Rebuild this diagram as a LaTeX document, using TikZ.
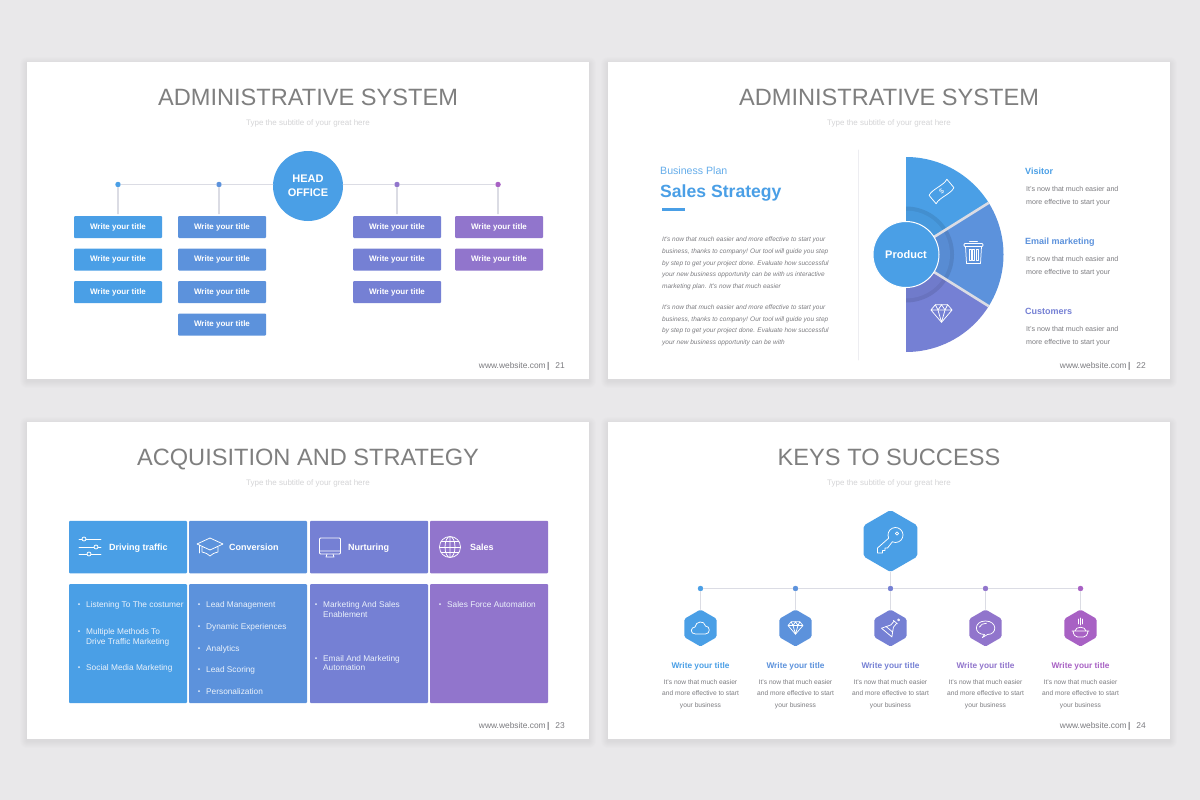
\documentclass[tikz,border=0pt]{standalone}
\usepackage{fontspec}
\setmainfont{Liberation Sans}
\usetikzlibrary{positioning}
\usetikzlibrary{shapes.geometric}
\definecolor{colbg}{HTML}{E9E8EA}
\definecolor{colA}{HTML}{4A9FE6}
\definecolor{colB}{HTML}{5C92DC}
\definecolor{colC}{HTML}{7580D4}
\definecolor{colD}{HTML}{9175CC}
\definecolor{colE}{HTML}{A861C4}
\definecolor{coltitle}{HTML}{7F7F7F}
\definecolor{colsub}{HTML}{D4D4D6}
\definecolor{coltext}{HTML}{7C7C80}
\definecolor{colline}{HTML}{DBDCE4}
\newcommand{\fpx}[1]{\fontsize{#1}{#1}\selectfont}
\tikzset{
  slidetitle/.style={anchor=base,inner sep=0,text=coltitle,font=\fpx{23.6}},
  slidesub/.style={anchor=base,inner sep=0,text=colsub,font=\fpx{8}},
  slidefoot/.style={anchor=base east,inner sep=0,text=coltext,font=\fpx{8.4}},
  titlebox/.style={fill=#1,rounded corners=1,minimum width=88,minimum height=22,inner sep=0,text=white,font=\bfseries\fpx{8}},
  joint/.style={circle,fill=#1,minimum size=5.5,inner sep=0},
  stem/.style={draw=colline,line width=1.1},
  headcell/.style={fill=#1,rounded corners=1,minimum width=118,minimum height=52.5,inner sep=0},
  bodycell/.style={fill=#1,rounded corners=1,minimum width=118,minimum height=119,inner sep=0},
  headlabel/.style={anchor=base west,inner sep=0,text=white,font=\bfseries\fpx{9}},
  celltext/.style={anchor=base west,inner sep=0,text=white!88!colB,font=\fpx{8.3}},
  plaintext/.style={anchor=base west,inner sep=0,text=coltext,font=\fpx{7.1}},
  midtext/.style={anchor=base,inner sep=0,text=coltext,font=\fpx{6.65}},
  hexbig/.style={regular polygon,regular polygon sides=6,regular polygon rotate=30,fill=#1,minimum size=62,inner sep=0,rounded corners=2},
  hexsmall/.style={regular polygon,regular polygon sides=6,regular polygon rotate=30,fill=#1,minimum size=37,inner sep=0,rounded corners=1.5},
  icon/.style={draw=white,line width=0.75,line cap=round,line join=round},
  pics/gem/.style={code={
    \draw[icon] (-12,-4)--(-7,-10)--(7,-10)--(12,-4)--(0,10)--cycle (-12,-4)--(12,-4);
    \draw[icon] (-7,-10)--(-4,-4)--(0,-10)--(4,-4)--(7,-10) (-4,-4)--(0,10)--(4,-4);
  }},
  pics/note/.style={code={
    \begin{scope}[rotate=40]
    \draw[icon] (-12,-5) .. controls (-6,-8) and (6,-3) .. (12,-6) -- (12,5) .. controls (6,8) and (-6,3) .. (-12,6) -- cycle;
    \node[rotate=40,inner sep=0,text=white,font=\fpx{7}] (dollar) at (0,0) {\$};
    \end{scope}
  }},
  pics/bin/.style={code={
    \draw[icon] (-8,-6) -- (-7,11) -- (7,11) -- (8,-6);
    \draw[icon,rounded corners=1] (-9.5,-6) -- (-9.5,-9) -- (9.5,-9) -- (9.5,-6) -- cycle;
    \draw[icon] (-4,-11.5) -- (4,-11.5);
    \foreach \x in {-3.6,0,3.6} \draw[icon] (\x-1,-3) rectangle (\x+1,8);
  }},
  pics/sliders/.style={code={
    \foreach \y/\x in {-8/-6,0/6,7/-1} {
      \draw[icon] (-11,\y) -- (\x-2,\y) (\x+2,\y) -- (11,\y);
      \draw[icon] (\x,\y) circle (2);
    }
  }},
  pics/gradcap/.style={code={
    \draw[icon] (-13,-3)--(0,-9)--(13,-3)--(0,3)--cycle;
    \draw[icon] (-8,0) -- (-8,5) .. controls (-4,6) and (-2,7) .. (0,9) .. controls (2,7) and (4,6) .. (8,5) -- (8,0);
    \draw[icon] (-11,-2) -- (-11,6);
  }},
  pics/monitor/.style={code={
    \draw[icon,rounded corners=1] (-10.5,-9) rectangle (10.5,7);
    \draw[icon] (-10.5,4) -- (10.5,4) (-3,7) -- (-4,10) -- (4,10) -- (3,7);
  }},
  pics/globe/.style={code={
    \draw[icon] (0,0) circle (10.5) (0,0) ellipse (5 and 10.5) (0,-10.5) -- (0,10.5);
    \draw[icon] (-10.5,0) -- (10.5,0) (-9,-5.2) -- (9,-5.2) (-9,5.2) -- (9,5.2);
  }},
  pics/cloud/.style={code={
    \draw[icon] (-5,6) .. controls (-11,6) and (-10,-1) .. (-5.5,-1) .. controls (-5,-7) and (4,-8) .. (5,-2) .. controls (10,-2) and (10,6) .. (5,6) -- cycle;
  }},
  pics/flask/.style={code={
    \begin{scope}[rotate=-40]
    \draw[icon] (-2,-9) -- (-2,-3) -- (-8,7) -- (8,7) -- (2,-3) -- (2,-9) (-3,-9) -- (3,-9) (-5.2,2) -- (5.2,2);
    \end{scope}
    \draw[icon] (9.5,-9.5) circle (1.2);
  }},
  pics/bubble/.style={code={
    \draw[icon] (-1,6.5) .. controls (-12,6.5) and (-12,-7) .. (0,-7) .. controls (12,-7) and (12,6.5) .. (2,6.5) -- (-3,9.5) -- cycle;
    \draw[icon] (-6,-1) .. controls (-5,-3.5) and (-2,-4.8) .. (1,-4.8);
  }},
  pics/bowl/.style={code={
    \draw[icon] (-8.5,3) -- (8.5,3) (-7.5,3) .. controls (-7,7) and (-5,9) .. (-3,9) -- (3,9) .. controls (5,9) and (7,7) .. (7.5,3);
    \draw[icon] (-5.5,3) .. controls (-5,-2) and (5,-2) .. (5.5,3);
    \draw[icon] (-2,-4) -- (-2,-9) (0,-3) -- (0,-10) (2,-4) -- (2,-9);
  }},
  pics/keyicon/.style={code={
    \draw[icon] (-1.8,-2.83) arc (155:475:7.5);
    \draw[icon] (-1.8,-2.83) -- (-13,7) -- (-13,12) -- (-8,12) -- (-8,9.5) -- (-5.5,9.5) -- (-5.5,7) -- (-3,7) -- (1.83,0.8);
    \draw[icon] (6.5,-7.5) circle (1.6);
  }}
}
\begin{document}
\begin{tikzpicture}[line cap=round,line join=round,x=1pt,y=-1pt]
\useasboundingbox (0,0) rectangle (1200,800);
\fill[colbg] (0,0) rectangle (1200,800);
\foreach \x/\y in {27/62,608/62,27/422,608/422} {
\foreach \s in {7,6,...,1}
\fill[black,opacity=0.006,rounded corners=\s] (\x-\s,\y-\s+2) rectangle (\x+562+\s,\y+317+\s+2);
\fill[white] (\x,\y) rectangle (\x+562,\y+317);
}
\node[slidetitle] (titleA) at (308,105.5) {ADMINISTRATIVE SYSTEM};
\node[slidetitle] (titleB) at (889,105.5) {ADMINISTRATIVE SYSTEM};
\node[slidetitle] (titleC) at (308,465.5) {ACQUISITION AND STRATEGY};
\node[slidetitle] (titleD) at (889,465.5) {KEYS TO SUCCESS};
\foreach \x/\y [count=\i] in {308/125,889/125,308/485,889/485}
\node[slidesub] (sub\i) at (\x,\y) {Type the subtitle of your great here};
\foreach \x/\y/\n in {565/368.5/21,1146/368.5/22,565/728.5/23,1146/728.5/24}
\node[slidefoot] (foot\n) at (\x,\y) {www.website.com\,\textbf{|}\hspace{6pt}\n};

\foreach \x/\c/\l in {118/colA/a,219/colB/b,397/colD/c,498/colE/d}
\node[joint=\c] (dot\l) at (\x,184.5) {};
\node[circle,fill=colA,minimum size=70,inner sep=0,text=white,align=center,font=\bfseries\fontsize{11}{14.5}\selectfont] (office) at (308,186) {HEAD\\OFFICE};
\foreach \x/\c/\l/\n in {118/colA/a/3,222/colB/b/4,397/colC/c/3,499/colD/d/2}
\foreach \y [count=\i] in {227,259.5,292,324.5} {
\ifnum\i>\n\else
\node[titlebox=\c] (box\l\i) at (\x,\y) {Write your title};
\fi
}
\draw[stem] (dota) -- (dotb) -- (dotb -| office.west);
\draw[stem] (dotc -| office.east) -- (dotc) -- (dotd);
\draw[stem,shorten >=2] (dota) -- (dota |- boxa1.north);
\draw[stem,shorten >=2] (dotb) -- (dotb |- boxb1.north);
\draw[stem,shorten >=2] (dotc) -- (dotc |- boxc1.north);
\draw[stem,shorten >=2] (dotd) -- (dotd |- boxd1.north);

\node[anchor=base west,inner sep=0,text=colA!85!white,font=\fpx{10.6}] (plan) at (660,174) {Business Plan};
\node[anchor=base west,inner sep=0,text=colA,font=\bfseries\fpx{17.6}] (strategy) at (660,197.5) {Sales Strategy};
\fill[colA] (662,208) rectangle (685,210.5);
\foreach \y/\t [count=\i] in {
241/{It's now that much easier and more effective to start your},
253/{business, thanks to company! Our tool will guide you step},
265/{by step to get your project done. Evaluate how successful},
276/{your new business opportunity can be with us interactive},
288/{marketing plan. It's now that much easier},
309/{It's now that much easier and more effective to start your},
321/{business, thanks to company! Our tool will guide you step},
332.5/{by step to get your project done. Evaluate how successful},
344/{your new business opportunity can be with}}
\node[plaintext,font=\itshape\fpx{6.5}] (para\i) at (662,\y) {\t};
\draw[colline!50!white,line width=0.7] (858,150) -- (858,360);

\fill[colA] (906,254.5) -- ++(-90:97.5) arc (-90:-32:97.5) -- cycle;
\fill[colB] (906,254.5) -- ++(-32:97.5) arc (-32:32:97.5) -- cycle;
\fill[colC] (906,254.5) -- ++(32:97.5) arc (32:90:97.5) -- cycle;
\fill[colA!90!black] (906,254.5) -- ++(-90:48) arc (-90:-32:48) -- cycle;
\fill[colB!90!black] (906,254.5) -- ++(-32:48) arc (-32:32:48) -- cycle;
\fill[colC!90!black] (906,254.5) -- ++(32:48) arc (32:90:48) -- cycle;
\fill[colA!96!black] (906,254.5) -- ++(-90:44) arc (-90:-32:44) -- cycle;
\fill[colB!96!black] (906,254.5) -- ++(-32:44) arc (-32:32:44) -- cycle;
\fill[colC!96!black] (906,254.5) -- ++(32:44) arc (32:90:44) -- cycle;
\draw[colline,line width=2.6,line cap=butt] (906,254.5) -- ++(-32:97.5);
\draw[colline,line width=2.6,line cap=butt] (906,254.5) -- ++(32:97.5);
\node[circle,fill=colA,draw=white,line width=1,minimum size=66,inner sep=0,text=white,font=\bfseries\fpx{11}] (product) at (906,254.5) {Product};
\pic at (941.5,191.5) {note};
\pic at (973.5,252.5) {bin};
\pic[scale=0.88] at (941.5,313.5) {gem};
\node[anchor=base west,inner sep=0,text=colA,font=\bfseries\fpx{9}] (visitor) at (1025,174.5) {Visitor};
\node[anchor=base west,inner sep=0,text=colB,font=\bfseries\fpx{9}] (email) at (1025,244.5) {Email marketing};
\node[anchor=base west,inner sep=0,text=colC,font=\bfseries\fpx{9}] (customers) at (1025,314.5) {Customers};
\foreach \y [count=\i] in {191.5,261.5,331.5} {
\node[plaintext] (lineA\i) at (1026,\y) {It's now that much easier and};
\node[plaintext] (lineB\i) at (1026,\y+13) {more effective to start your};
}

\foreach \x/\c/\l in {128/colA/a,248/colB/b,369/colC/c,489/colD/d} {
\node[headcell=\c] (head\l) at (\x,547) {};
\node[bodycell=\c] (body\l) at (\x,643.5) {};
}
\pic at (90,547) {sliders};
\pic at (210,547) {gradcap};
\pic at (330,547) {monitor};
\pic at (450,547) {globe};
\node[headlabel] (labela) at (109,550.5) {Driving traffic};
\node[headlabel] (labelb) at (229,550.5) {Conversion};
\node[headlabel] (labelc) at (348,550.5) {Nurturing};
\node[headlabel] (labeld) at (470,550.5) {Sales};
\foreach \x/\y/\t [count=\i] in {
86/607/{Listening To The costumer},
86/634.5/{Multiple Methods To},
86/644.5/{Drive Traffic Marketing},
86/670.5/{Social Media Marketing},
206/607/{Lead Management},
206/629/{Dynamic Experiences},
206/651/{Analytics},
206/672/{Lead Scoring},
206/694/{Personalization},
323/607/{Marketing And Sales},
323/617/{Enablement},
323/661/{Email And Marketing},
323/670/{Automation},
447/607/{Sales Force Automation}}
\node[celltext] (item\i) at (\x,\y) {\t};
\foreach \x/\y [count=\i] in {79/604,79/631,79/667,199/604,199/626,199/648,199/669,199/691,316/604,316/658,440/604}
\fill[white!85!colB] (\x,\y) circle (1);

\node[hexbig=colA] (hexkey) at (890.5,541) {};
\pic at (890.5,541) {keyicon};
\foreach \x/\c/\l in {700.5/colA/a,795.5/colB/b,890.5/colC/c,985.5/colD/d,1080.5/colE/e} {
\node[joint=\c] (joint\l) at (\x,588.5) {};
\node[hexsmall=\c] (hex\l) at (\x,628) {};
\node[anchor=base,inner sep=0,text=\c,font=\bfseries\fpx{8.3}] (name\l) at (\x,668) {Write your title};
\node[midtext] (txtA\l) at (\x,684) {It's now that much easier};
\node[midtext] (txtB\l) at (\x,695.5) {and more effective to start};
\node[midtext] (txtC\l) at (\x,707.5) {your business};
\draw[stem] (joint\l) -- (hex\l);
}
\draw[stem] (jointa) -- (jointb) -- (jointc) -- (jointd) -- (jointe);
\draw[stem] (hexkey) -- (jointc);
\pic at (700.5,628) {cloud};
\pic[scale=0.62] at (795.5,628) {gem};
\pic[scale=0.85] at (890.5,628) {flask};
\pic at (985.5,628) {bubble};
\pic at (1080.5,628) {bowl};
\end{tikzpicture}
\end{document}
